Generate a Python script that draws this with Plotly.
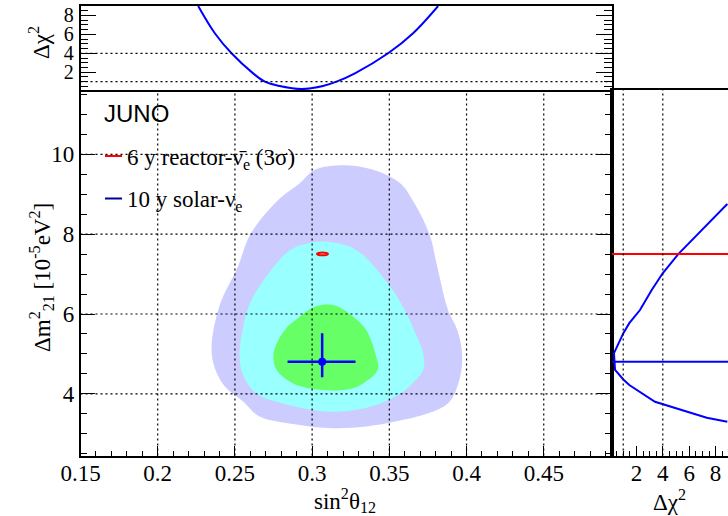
import plotly.graph_objects as go

# ---------------- data ----------------
# 3 sigma (lavender), 2 sigma (cyan), 1 sigma (green) solar contours
c3_sin2 = [0.320, 0.339, 0.357, 0.365, 0.376, 0.381, 0.388, 0.394, 0.397, 0.396, 0.389, 0.378,
           0.357, 0.335, 0.313, 0.292, 0.266, 0.2555, 0.242, 0.235, 0.240, 0.252, 0.260, 0.278,
           0.292, 0.302]
c3_dm2 = [9.73, 9.62, 9.28, 8.86, 8.00, 7.19, 6.10, 5.60, 5.05, 4.45, 3.80, 3.55,
          3.33, 3.18, 3.14, 3.22, 3.43, 3.80, 4.26, 5.00, 6.20, 7.19, 8.00, 8.86,
          9.28, 9.62]

c2_sin2 = [0.310, 0.3288, 0.349, 0.360, 0.366, 0.372, 0.372, 0.366, 0.357, 0.340, 0.313, 0.281,
           0.264, 0.255, 0.253, 0.255, 0.259, 0.2672, 0.2856, 0.297]
c2_dm2 = [7.81, 7.60, 6.77, 6.10, 5.60, 5.00, 4.60, 4.30, 4.00, 3.70, 3.55, 3.76,
          4.00, 4.50, 5.00, 5.60, 6.20, 6.77, 7.60, 7.77]

c1_sin2 = [0.307, 0.3158, 0.3266, 0.335, 0.341, 0.3425, 0.333, 0.3244, 0.307, 0.2877, 0.277,
           0.275, 0.2823, 0.292, 0.300]
c1_dm2 = [6.23, 6.20, 5.93, 5.60, 5.00, 4.60, 4.26, 4.12, 4.095, 4.26, 4.60,
          5.01, 5.60, 5.93, 6.15]

# reactor 3 sigma contour (small ellipse)
reactor_sin2 = [0.3031, 0.3042, 0.3067, 0.3092, 0.3103, 0.3092, 0.3067, 0.3042]
reactor_dm2 = [7.505, 7.530, 7.540, 7.530, 7.505, 7.480, 7.470, 7.480]

# solar best fit and errors
solar_bf_sin2 = [0.3065]
solar_bf_dm2 = [4.805]
solar_err_sin2_plus = [0.0216]
solar_err_sin2_minus = [0.0224]
solar_err_dm2_plus = [0.711]
solar_err_dm2_minus = [0.391]

reactor_bf_dm2 = 7.505

# Profiles
top_sin2 = [0.2262, 0.237, 0.2478, 0.2618, 0.2694, 0.279, 0.2931, 0.307, 0.3158, 0.3277,
            0.3492, 0.3654, 0.3816]
top_dchi2 = [9.0, 6.12, 4.0, 1.88, 1.0, 0.54, 0.22, 0.54, 1.0, 1.88, 4.0, 6.12, 9.0]

right_dchi2 = [8.89, 5.17, 3.99, 3.16, 2.27, 1.46, 1.01, 0.30, 0.38, 1.01, 1.46, 3.41, 7.33, 8.89]
right_dm2 = [8.76, 7.50, 7.02, 6.60, 6.10, 5.77, 5.52, 5.02, 4.60, 4.36, 4.22, 3.80, 3.40, 3.30]

dchi2_levels = [1, 4]

# axes
x_range = [0.15, 0.4942]
y_range = [2.454, 11.614]
top_y_range = [0.12, 9.0]
right_x_range = [0.15, 8.94]

x_ticks = [0.15, 0.2, 0.25, 0.3, 0.35, 0.4, 0.45]
x_ticktext = ["0.15", "0.2", "0.25", "0.3", "0.35", "0.4", "0.45"]
y_ticks = [4, 6, 8, 10]
top_y_ticks = [2, 4, 6, 8]
right_x_ticks = [2, 4, 6, 8]

# ---------------- styling ----------------
W, H = 728, 516
SERIF = "Liberation Serif"
SANS = "Liberation Sans"
lav = "#ccccff"
cyan = "#99ffff"
green = "#66ff66"
blue = "#0000ff"
red = "#ff0000"
DOT = "2px,3px"

def px_x(p):
    return p / W

def px_y(p):
    return (H - p) / H

x_dom = [px_x(80.5), px_x(612)]
y_dom = [px_y(455.5), px_y(90)]
top_dom = [px_y(90), px_y(6)]
right_dom = [px_x(612), 1.0]

fig = go.Figure()

for xs, ys, col in [(c3_sin2, c3_dm2, lav), (c2_sin2, c2_dm2, cyan), (c1_sin2, c1_dm2, green)]:
    fig.add_trace(go.Scatter(x=xs + xs[:1], y=ys + ys[:1], mode="lines", fill="toself",
                             fillcolor=col, line=dict(width=0, shape="spline", smoothing=1.0),
                             hoverinfo="skip", showlegend=False, xaxis="x", yaxis="y"))

fig.add_trace(go.Scatter(x=reactor_sin2 + reactor_sin2[:1], y=reactor_dm2 + reactor_dm2[:1],
                         mode="lines", line=dict(color=red, width=2, shape="spline"),
                         showlegend=False, xaxis="x", yaxis="y"))

fig.add_trace(go.Scatter(x=solar_bf_sin2, y=solar_bf_dm2, mode="markers",
                         marker=dict(color=blue, size=8, symbol="circle"),
                         error_x=dict(type="data", symmetric=False, array=solar_err_sin2_plus,
                                      arrayminus=solar_err_sin2_minus, thickness=2.5, width=0, color=blue),
                         error_y=dict(type="data", symmetric=False, array=solar_err_dm2_plus,
                                      arrayminus=solar_err_dm2_minus, thickness=2.5, width=0, color=blue),
                         showlegend=False, xaxis="x", yaxis="y"))

# top profile
fig.add_trace(go.Scatter(x=top_sin2, y=top_dchi2, mode="lines",
                         line=dict(color=blue, width=2, shape="spline"),
                         showlegend=False, xaxis="x2", yaxis="y2"))
# right profile
fig.add_trace(go.Scatter(x=right_dchi2, y=right_dm2, mode="lines",
                         line=dict(color=blue, width=2),
                         showlegend=False, xaxis="x3", yaxis="y3"))
# best-fit lines in right panel
fig.add_trace(go.Scatter(x=right_x_range, y=[reactor_bf_dm2] * 2, mode="lines",
                         line=dict(color=red, width=2), showlegend=False, xaxis="x3", yaxis="y3"))
fig.add_trace(go.Scatter(x=right_x_range, y=solar_bf_dm2 * 2, mode="lines",
                         line=dict(color=blue, width=2), showlegend=False, xaxis="x3", yaxis="y3"))

shapes = []
gl = dict(color="black", width=1.2, dash=DOT)
for xv in x_ticks[1:]:
    shapes.append(dict(type="line", xref="x", yref="y domain", x0=xv, x1=xv, y0=0, y1=1,
                       line=gl, layer="above"))
for yv in y_ticks:
    shapes.append(dict(type="line", xref="x domain", yref="y", x0=0, x1=1, y0=yv, y1=yv,
                       line=gl, layer="above"))
for lv in dchi2_levels:
    shapes.append(dict(type="line", xref="x2 domain", yref="y2", x0=0, x1=1, y0=lv, y1=lv,
                       line=gl, layer="above"))
    shapes.append(dict(type="line", xref="x3", yref="y3 domain", x0=lv, x1=lv, y0=0, y1=1,
                       line=gl, layer="above"))
# legend samples
shapes.append(dict(type="line", xref="paper", yref="paper", x0=px_x(105), x1=px_x(122),
                   y0=px_y(156), y1=px_y(156), line=dict(color=red, width=2)))
shapes.append(dict(type="line", xref="paper", yref="paper", x0=px_x(105), x1=px_x(122),
                   y0=px_y(198.5), y1=px_y(198.5), line=dict(color="#000099", width=2)))

tf = dict(family=SERIF, size=23, color="black")
tfs = dict(family=SERIF, size=23, color="black")
tft = dict(family=SERIF, size=20, color="black")
ann = [
    dict(text="JUNO", x=px_x(102), y=px_y(114), xref="paper", yref="paper", xanchor="left",
         yanchor="middle", showarrow=False, font=dict(family=SANS, size=24, color="black")),
    dict(text="6 y reactor-ν̄<sub>e</sub> (3σ)", x=px_x(125), y=px_y(159), xref="paper", yref="paper",
         xanchor="left", yanchor="middle", showarrow=False, font=tf),
    dict(text="10 y solar-ν<sub>e</sub>", x=px_x(125), y=px_y(201), xref="paper", yref="paper",
         xanchor="left", yanchor="middle", showarrow=False, font=tf),
    dict(text="sin<sup>2</sup>θ<sub>12</sub>", x=px_x(345), y=px_y(500), xref="paper", yref="paper",
         xanchor="center", yanchor="middle", showarrow=False, font=tf),
    dict(text="Δχ<sup>2</sup>", x=px_x(669), y=px_y(500), xref="paper", yref="paper",
         xanchor="center", yanchor="middle", showarrow=False, font=tf),
    dict(text="Δm<sup>2</sup><sub>21</sub> [10<sup>-5</sup>eV<sup>2</sup>]", x=px_x(41), y=px_y(278),
         xref="paper", yref="paper", xanchor="center", yanchor="middle", textangle=-90,
         showarrow=False, font=tf),
    dict(text="Δχ<sup>2</sup>", x=px_x(39), y=px_y(43), xref="paper", yref="paper",
         xanchor="center", yanchor="middle", textangle=-90, showarrow=False, font=tf),
]

axis_common = dict(showgrid=False, zeroline=False, linecolor="black", linewidth=1.5,
                   tickcolor="black", showline=True, automargin=False)

fig.update_layout(
    width=W, height=H, margin=dict(l=0, r=0, t=0, b=0, autoexpand=False),
    paper_bgcolor="white", plot_bgcolor="rgba(0,0,0,0)",
    showlegend=False, shapes=shapes, annotations=ann,
    xaxis=dict(domain=x_dom, range=x_range, anchor="y", tickvals=x_ticks, ticktext=x_ticktext,
               ticks="inside", ticklen=10, tickwidth=1, ticklabelstandoff=-4, tickfont=tfs,
               minor=dict(dtick=0.01, tick0=0.15, ticks="inside", ticklen=5, tickcolor="black"),
               **axis_common),
    yaxis=dict(domain=y_dom, range=y_range, anchor="x", tickvals=y_ticks, ticks="inside",
               ticklen=15, tickwidth=1, mirror="ticks", ticklabelstandoff=0, tickfont=tfs,
               minor=dict(dtick=0.5, tick0=0, ticks="inside", ticklen=7, tickcolor="black"),
               **axis_common),
    xaxis2=dict(domain=x_dom, range=x_range, anchor="y2", showticklabels=False, ticks="",
                mirror=True, **axis_common),
    yaxis2=dict(domain=top_dom, range=top_y_range, anchor="x2", tickvals=top_y_ticks,
                ticks="inside", ticklen=16, tickwidth=1, mirror="ticks", ticklabelstandoff=1,
                tickfont=tft,
                minor=dict(dtick=0.5, tick0=0, ticks="inside", ticklen=8, tickcolor="black"),
                **axis_common),
    xaxis3=dict(domain=right_dom, range=right_x_range, anchor="y3", tickvals=right_x_ticks,
                ticks="inside", ticklen=10, tickwidth=1, mirror=True, ticklabelstandoff=-4,
                tickfont=tfs,
                minor=dict(dtick=0.5, tick0=0, ticks="inside", ticklen=5, tickcolor="black"),
                **axis_common),
    yaxis3=dict(domain=y_dom, range=y_range, anchor="x3", showticklabels=False, ticks="",
                **axis_common),
)

fig.write_html("out.html")
